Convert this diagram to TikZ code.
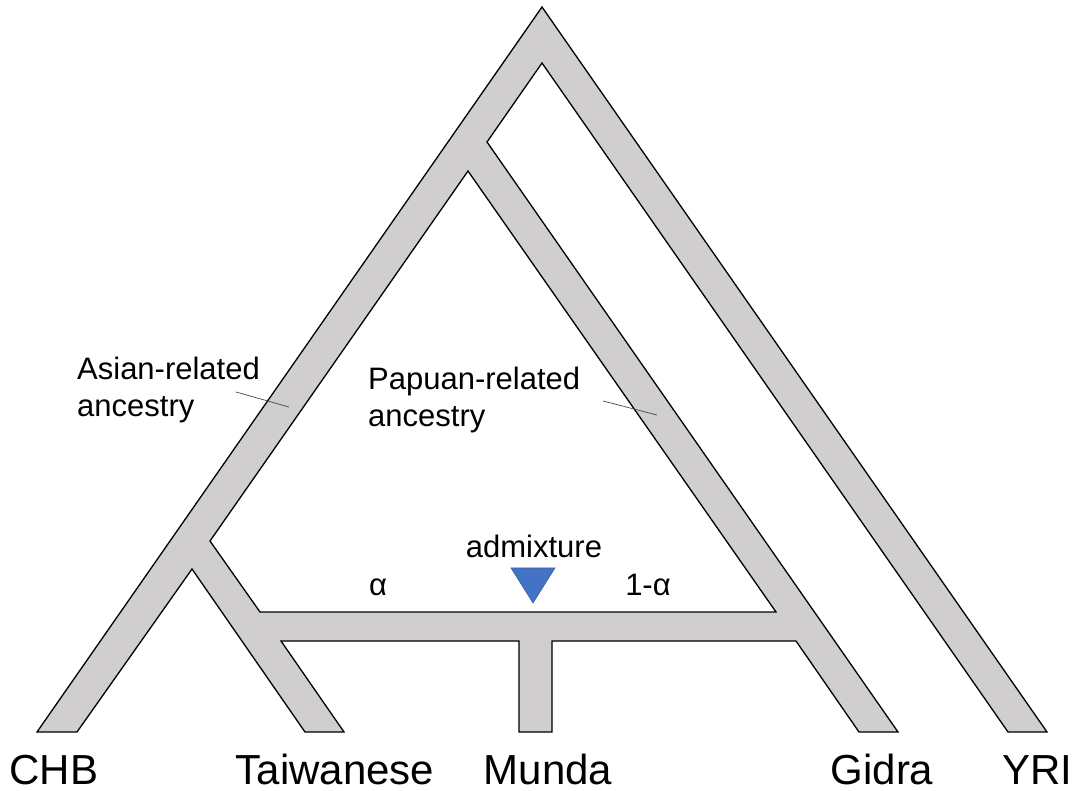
\documentclass[tikz,border=0pt]{standalone}
\usepackage{fontspec}
\setmainfont{Liberation Sans}
\definecolor{branchgray}{RGB}{208,206,207}
\definecolor{admixblue}{RGB}{68,114,196}
\definecolor{pointergray}{RGB}{70,70,70}
\begin{document}
\begin{tikzpicture}[x=1pt,y=-1pt,
  tree/.style={fill=branchgray,draw=black,line width=1.3pt,line join=miter,even odd rule},
  note/.style={inner sep=0pt,align=left,font=\fontsize{31}{37}\selectfont},
  leaf/.style={inner sep=0pt,anchor=base,font=\fontsize{42}{48}\selectfont},
  pointer/.style={draw=pointergray,line width=0.7pt}]
\useasboundingbox (0,0) rectangle (1080,791);

% corner points of the branching population tree
\coordinate (apex) at (542,7);
\coordinate (yriR) at (1047,732);
\coordinate (yriL) at (1008,732);
\coordinate (inapex) at (542,63);
\coordinate (papsplit) at (487,142);
\coordinate (gidR) at (898,732);
\coordinate (gidL) at (859,732);
\coordinate (hbR) at (796,641);
\coordinate (munTR) at (552,641);
\coordinate (munR) at (552,732);
\coordinate (munL) at (519,732);
\coordinate (munTL) at (519,641);
\coordinate (hbL) at (281,641);
\coordinate (taiR) at (344,732);
\coordinate (taiL) at (305,732);
\coordinate (taisplit) at (192,569);
\coordinate (chbR) at (77,732);
\coordinate (chbL) at (37,732);
% enclosed white triangle
\coordinate (tri1) at (468,171);
\coordinate (tri2) at (776,612);
\coordinate (tri3) at (260,612);
\coordinate (tri4) at (210,541);

\path[tree] (apex) -- (yriR) -- (yriL) -- (inapex) -- (papsplit) -- (gidR) -- (gidL)
  -- (hbR) -- (munTR) -- (munR) -- (munL) -- (munTL) -- (hbL) -- (taiR) -- (taiL)
  -- (taisplit) -- (chbR) -- (chbL) -- cycle
  (tri1) -- (tri2) -- (tri3) -- (tri4) -- cycle;

% ancestry labels with pointers
\node[note,anchor=north west] (asian) at (77,357) {Asian-related\\ancestry};
\coordinate (asianA) at (236,392);
\coordinate (asianB) at (289,407);
\draw[pointer] (asianA) -- (asianB);

\node[note,anchor=north west] (papuan) at (368,367) {Papuan-related\\ancestry};
\coordinate (papA) at (603,401);
\coordinate (papB) at (657,415);
\draw[pointer] (papA) -- (papB);

% admixture marker
\node[note,anchor=base] (admix) at (534,558) {admixture};
\coordinate (mk1) at (511,568);
\coordinate (mk2) at (555,568);
\coordinate (mk3) at (533,603);
\path[fill=admixblue,draw=admixblue!85!black,line width=0.6pt] (mk1) -- (mk2) -- (mk3) -- cycle;
\node[note,anchor=base] (alpha) at (378,596) {α};
\node[note,anchor=base] (oneminus) at (648,596) {1-α};

% population labels
\node[leaf] (chb) at (54,784) {CHB};
\node[leaf] (tai) at (335,784) {Taiwanese};
\node[leaf] (munda) at (548,784) {Munda};
\node[leaf] (gidra) at (882,784) {Gidra};
\node[leaf] (yri) at (1037,784) {YRI};
\end{tikzpicture}
\end{document}
